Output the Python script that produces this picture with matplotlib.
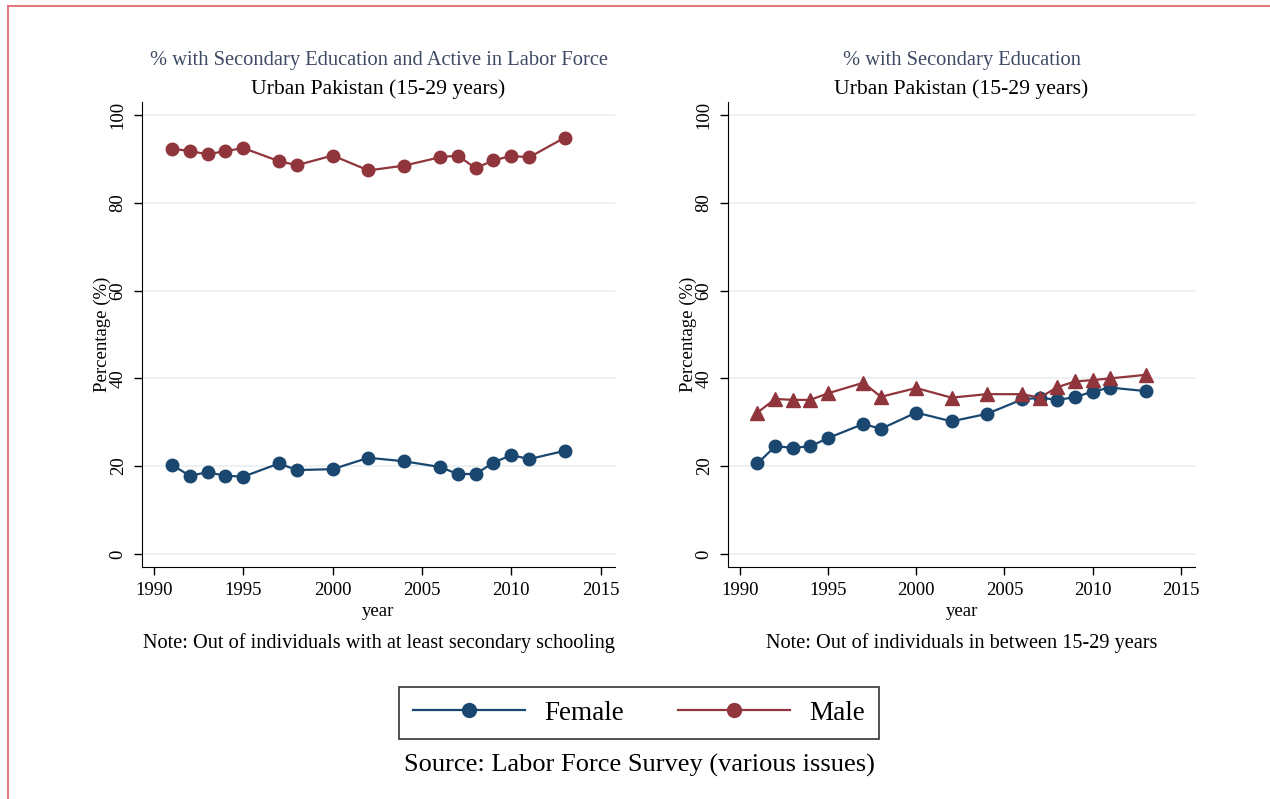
import matplotlib.pyplot as plt
from matplotlib.lines import Line2D
from matplotlib.patches import Rectangle

plt.rcParams['font.family'] = ['Liberation Serif', 'DejaVu Serif']

# Survey years
years = [1991, 1992, 1993, 1994, 1995, 1997, 1998, 2000, 2002, 2004,
         2006, 2007, 2008, 2009, 2010, 2011, 2013]

# Left panel: % with secondary education and active in labor force
lf_female = [20.3, 17.8, 18.6, 17.8, 17.6, 20.6, 19.1, 19.3, 21.9, 21.1,
             19.8, 18.2, 18.2, 20.8, 22.5, 21.6, 23.5]
lf_male = [92.4, 91.8, 91.1, 91.8, 92.5, 89.5, 88.6, 90.8, 87.4, 88.5,
           90.4, 90.8, 87.9, 89.7, 90.7, 90.4, 94.9]

# Right panel: % with secondary education
ed_female = [20.6, 24.5, 24.2, 24.5, 26.4, 29.6, 28.5, 32.2, 30.2, 31.9,
             35.2, 35.6, 35.1, 35.7, 37.0, 37.9, 37.1]
ed_male = [32.2, 35.3, 35.1, 35.1, 36.6, 39.0, 35.8, 37.8, 35.6, 36.4,
           36.4, 35.6, 38.0, 39.3, 39.6, 40.0, 40.8]

blue = "#1a476f"
red = "#90353b"
grid_col = "#eaf0f3"
sub_col = "#3e4a64"


def style_axes(ax, title, note):
    ax.set_xlim(1989.33, 2015.8)
    ax.set_ylim(-3, 103)
    ax.set_xticks([1990, 1995, 2000, 2005, 2010, 2015])
    ax.set_yticks([0, 20, 40, 60, 80, 100])
    for lab in ax.get_yticklabels():
        lab.set_rotation(90)
        lab.set_va("center")
    ax.tick_params(labelsize=13.5, length=6, width=1, pad=5)
    ax.spines["top"].set_visible(False)
    ax.spines["right"].set_visible(False)
    ax.grid(axis="y", color=grid_col, linewidth=1.3)
    ax.set_axisbelow(True)
    ax.set_ylabel("Percentage (%)", fontsize=13.5, labelpad=-1)
    ax.set_xlabel("year", fontsize=13.5, labelpad=3)
    ax.text(0.5, 1.079, title, transform=ax.transAxes, ha="center",
            fontsize=14.8, color=sub_col)
    ax.text(0.5, 1.018, "Urban Pakistan (15-29 years)", transform=ax.transAxes,
            ha="center", fontsize=15.6)
    ax.text(0.5, -0.175, note, transform=ax.transAxes, ha="center",
            fontsize=14.6)


def main():
    fig = plt.figure(figsize=(12.7, 7.99), dpi=100)

    # Border like the source frame
    fig.patches.append(Rectangle((8 / 1270, -0.05), 1.1, 1 - 6 / 799 + 0.05,
                                 transform=fig.transFigure, fill=False,
                                 edgecolor="#e07a80", linewidth=1.5))

    ax1 = fig.add_axes([142 / 1270, 1 - 567 / 799, 473 / 1270, 465 / 799])
    ax1.plot(years, lf_female, color=blue, marker="o", markersize=9, linewidth=1.6)
    ax1.plot(years, lf_male, color=red, marker="o", markersize=9, linewidth=1.6)
    style_axes(ax1, "% with Secondary Education and Active in Labor Force",
               "Note: Out of individuals with at least secondary schooling")

    ax2 = fig.add_axes([728 / 1270, 1 - 567 / 799, 467 / 1270, 465 / 799])
    ax2.plot(years, ed_female, color=blue, marker="o", markersize=9, linewidth=1.6)
    ax2.plot(years, ed_male, color=red, marker="^", markersize=9.5, linewidth=1.6)
    style_axes(ax2, "% with Secondary Education",
               "Note: Out of individuals in between 15-29 years")

    handles = [Line2D([], [], color=blue, marker="o", markersize=10, linewidth=1.6),
               Line2D([], [], color=red, marker="o", markersize=10, linewidth=1.6)]
    leg = fig.legend(handles, ["Female", "Male"], loc="center",
                     bbox_to_anchor=(639 / 1270, 1 - 713 / 799), ncol=2,
                     fontsize=19.5, frameon=True, fancybox=False,
                     handlelength=4.15, columnspacing=2.0, borderpad=0.5,
                     handletextpad=0.7, borderaxespad=0)
    leg.get_frame().set_edgecolor("black")
    leg.get_frame().set_linewidth(1.2)

    fig.text(639 / 1270, 1 - 765 / 799, "Source: Labor Force Survey (various issues)",
             ha="center", va="center", fontsize=19)

    fig.savefig("out.png", dpi=100)


if __name__ == '__main__':
    main()
